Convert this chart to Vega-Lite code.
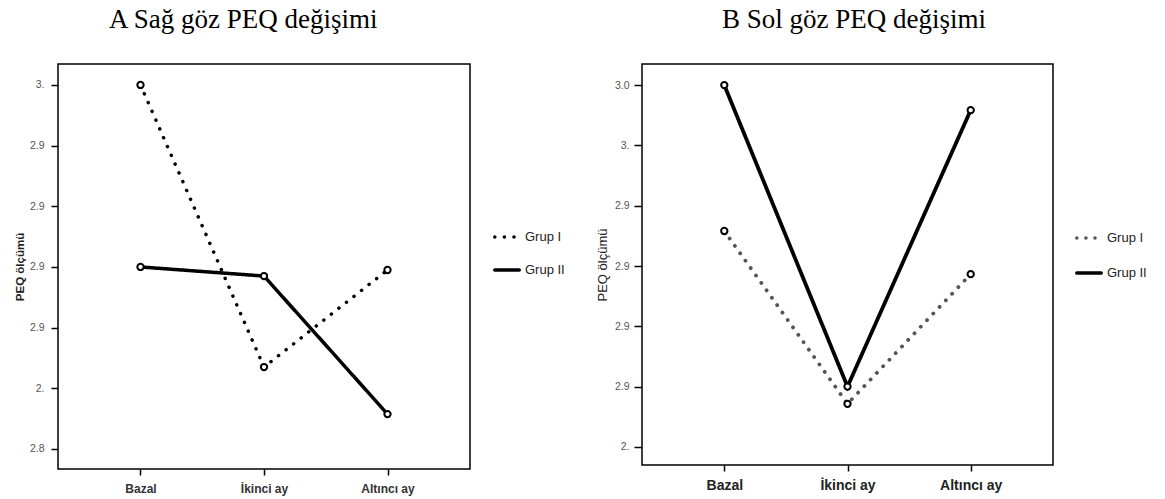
{
  "$schema": "https://vega.github.io/schema/vega-lite/v6.json",
  "background": "white",
  "padding": {"left": 13, "top": 5, "right": 5, "bottom": 5},
  "datasets": {
    "A": [
      {"zaman": "Bazal", "grup": "Grup I", "deger": 3.000},
      {"zaman": "İkinci ay", "grup": "Grup I", "deger": 2.907},
      {"zaman": "Altıncı ay", "grup": "Grup I", "deger": 2.939},
      {"zaman": "Bazal", "grup": "Grup II", "deger": 2.940},
      {"zaman": "İkinci ay", "grup": "Grup II", "deger": 2.937},
      {"zaman": "Altıncı ay", "grup": "Grup II", "deger": 2.8915}
    ],
    "B": [
      {"zaman": "Bazal", "grup": "Grup I", "deger": 2.9516},
      {"zaman": "İkinci ay", "grup": "Grup I", "deger": 2.8943},
      {"zaman": "Altıncı ay", "grup": "Grup I", "deger": 2.9373},
      {"zaman": "Bazal", "grup": "Grup II", "deger": 3.000},
      {"zaman": "İkinci ay", "grup": "Grup II", "deger": 2.900},
      {"zaman": "Altıncı ay", "grup": "Grup II", "deger": 2.9917}
    ]
  },
  "config": {
    "view": {"stroke": "#000", "strokeWidth": 1.5},
    "axis": {"grid": false, "domain": false, "tickColor": "#000", "tickWidth": 1.5, "labelFont": "Liberation Sans", "titleFont": "Liberation Sans"},
    "title": {"font": "Liberation Serif", "fontSize": 27, "fontWeight": "normal", "color": "#000", "anchor": "start", "frame": "group", "baseline": "alphabetic"},
    "legend": {"labelFont": "Liberation Sans", "labelFontSize": 13, "labelColor": "#222", "symbolType": "stroke", "symbolSize": 600, "symbolStrokeWidth": 3.5, "labelOffset": 4}
  },
  "resolve": {
    "scale": {"x": "independent", "y": "independent", "strokeDash": "independent", "color": "independent"},
    "legend": {"strokeDash": "independent", "color": "independent"}
  },
  "spacing": 29,
  "hconcat": [
    {
      "title": {"text": "A Sağ göz PEQ değişimi", "dx": 51, "offset": 30},
      "width": 412,
      "height": 405,
      "data": {"name": "A"},
      "layer": [
        {
          "mark": {"type": "line", "strokeWidth": 3.5, "strokeCap": "round", "color": "#000"},
          "encoding": {
            "x": {"field": "zaman", "type": "nominal", "sort": ["Bazal", "İkinci ay", "Altıncı ay"], "scale": {"type": "point", "padding": 0.668},
              "axis": {"title": null, "labelAngle": 0, "labelFontSize": 12, "labelFontWeight": "bold", "labelColor": "#333", "tickSize": 6, "labelPadding": 8}},
            "y": {"field": "deger", "type": "quantitative", "scale": {"domain": [2.8734, 3.0069], "nice": false, "zero": false},
              "axis": {"values": [2.88, 2.9, 2.92, 2.94, 2.96, 2.98, 3.0], "labelExpr": "datum.value > 2.99 ? '3.' : datum.value > 2.91 ? '2.9' : datum.value > 2.89 ? '2.' : '2.8'",
                "title": "PEQ ölçümü", "titleFontSize": 11.5, "titleFontWeight": "bold", "titleColor": "#222", "titlePadding": 4,
                "labelFontSize": 10.5, "labelColor": "#555", "tickSize": 7, "labelPadding": 7}},
            "strokeDash": {"field": "grup", "type": "nominal", "scale": {"domain": ["Grup I", "Grup II"], "range": [[0.1, 9.5], [1, 0]]},
              "legend": {"title": null, "orient": "none", "legendX": 435, "legendY": 159, "symbolStrokeColor": "#000", "rowPadding": 12,
                "encode": {"symbols": {"update": {"strokeCap": {"value": "round"}}}}}}
          }
        },
        {
          "mark": {"type": "point", "shape": "circle", "size": 40, "strokeWidth": 2, "stroke": "#000", "fill": "#fff", "filled": false, "opacity": 1},
          "encoding": {
            "x": {"field": "zaman", "type": "nominal", "sort": ["Bazal", "İkinci ay", "Altıncı ay"]},
            "y": {"field": "deger", "type": "quantitative"}
          }
        }
      ]
    },
    {
      "title": {"text": "B Sol göz PEQ değişimi", "dx": 80, "offset": 30},
      "width": 411,
      "height": 401,
      "data": {"name": "B"},
      "layer": [
        {
          "mark": {"type": "line", "strokeWidth": 3.8, "strokeCap": "round"},
          "encoding": {
            "x": {"field": "zaman", "type": "nominal", "sort": ["Bazal", "İkinci ay", "Altıncı ay"], "scale": {"type": "point", "padding": 0.668},
              "axis": {"title": null, "labelAngle": 0, "labelFontSize": 14, "labelFontWeight": "bold", "labelColor": "#222", "tickSize": 6, "labelPadding": 7}},
            "y": {"field": "deger", "type": "quantitative", "scale": {"domain": [2.874, 3.007], "nice": false, "zero": false},
              "axis": {"values": [2.88, 2.9, 2.92, 2.94, 2.96, 2.98, 3.0], "labelExpr": "datum.value > 2.99 ? '3.0' : datum.value > 2.97 ? '3.' : datum.value > 2.89 ? '2.9' : '2.'",
                "title": "PEQ ölçümü", "titleFontSize": 13, "titleFontWeight": "normal", "titleColor": "#222", "titlePadding": 5,
                "labelFontSize": 10.5, "labelColor": "#555", "tickSize": 8, "labelPadding": 5}},
            "strokeDash": {"field": "grup", "type": "nominal", "scale": {"domain": ["Grup I", "Grup II"], "range": [[0.1, 9], [1, 0]]},
              "legend": {"title": null, "orient": "none", "legendX": 433, "legendY": 160, "rowPadding": 14,
                "encode": {"symbols": {"update": {"strokeCap": {"value": "round"}}}}}},
            "color": {"field": "grup", "type": "nominal", "scale": {"domain": ["Grup I", "Grup II"], "range": ["#555", "#000"]},
              "legend": {"title": null, "orient": "none", "legendX": 433, "legendY": 160, "rowPadding": 14,
                "encode": {"symbols": {"update": {"strokeCap": {"value": "round"}}}}}}
          }
        },
        {
          "mark": {"type": "point", "shape": "circle", "size": 40, "strokeWidth": 2, "stroke": "#000", "fill": "#fff", "filled": false, "opacity": 1},
          "encoding": {
            "x": {"field": "zaman", "type": "nominal", "sort": ["Bazal", "İkinci ay", "Altıncı ay"]},
            "y": {"field": "deger", "type": "quantitative"}
          }
        }
      ]
    }
  ]
}
